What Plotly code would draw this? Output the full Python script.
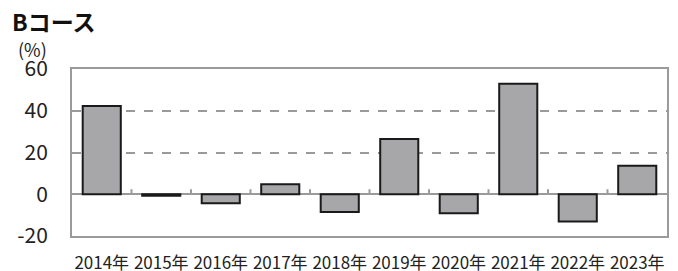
import plotly.graph_objects as go

categories = ["2014年", "2015年", "2016年", "2017年", "2018年",
              "2019年", "2020年", "2021年", "2022年", "2023年"]
values = [42.3, -0.7, -4.3, 4.8, -8.5, 26.5, -9.1, 52.9, -13.0, 13.6]
y_ticks = [-20, 0, 20, 40, 60]
y_range = [-20, 60]

font_family = "Noto Sans CJK JP, Noto Sans, sans-serif"

n = len(categories)
boundaries = [i + 0.5 for i in range(n - 1)]
tick_len = 2.4  # short upward boundary ticks on the zero line, in axis units

fig = go.Figure()
fig.add_trace(go.Bar(
    x=categories, y=values,
    marker=dict(color="#a7a7a9", line=dict(color="#1a1a1a", width=2)),
    width=0.64, xaxis="x", yaxis="y", showlegend=False, hoverinfo="x+y",
))
# boundary ticks between categories, rising from the zero line
fig.add_trace(go.Scatter(
    x=boundaries, y=[0] * len(boundaries), mode="markers",
    marker=dict(size=0.1, color="rgba(0,0,0,0)"),
    error_y=dict(type="data", symmetric=False,
                 array=[tick_len] * len(boundaries),
                 arrayminus=[0] * len(boundaries),
                 width=0, thickness=2, color="#9a9a9a"),
    xaxis="x2", yaxis="y", showlegend=False, hoverinfo="skip",
))

fig.update_layout(
    width=678, height=271,
    margin=dict(l=72, r=11, t=69, b=35, autoexpand=False),
    paper_bgcolor="white", plot_bgcolor="white",
    font=dict(family=font_family, color="#222222"),
    bargap=0.36,
    xaxis=dict(
        type="category", categoryorder="array", categoryarray=categories,
        range=[-0.5, n - 0.5],
        showgrid=False, zeroline=False, ticks="", automargin=False,
        showline=True, mirror=True, linecolor="#9a9a9a", linewidth=2,
        tickfont=dict(size=17, color="#222222"),
        ticklabelstandoff=11,
    ),
    xaxis2=dict(
        type="linear", range=[-0.5, n - 0.5], overlaying="x", anchor="y",
        visible=False, automargin=False,
    ),
    yaxis=dict(
        range=y_range, tickvals=y_ticks, ticktext=[str(v) for v in y_ticks],
        showgrid=True, gridcolor="#9a9a9a", griddash="dash", gridwidth=2,
        zeroline=True, zerolinecolor="#9a9a9a", zerolinewidth=2,
        showline=True, mirror=True, linecolor="#9a9a9a", linewidth=2,
        automargin=False,
        ticks="", tickfont=dict(size=21, color="#222222"),
        ticklabelstandoff=18,
    ),
    annotations=[
        dict(text="<b>Bコース</b>", xref="paper", yref="paper",
             x=-72/595, y=1 + 69/167, xanchor="left", yanchor="top",
             xshift=10, yshift=-2, showarrow=False,
             font=dict(size=23, color="#111111", family=font_family)),
        dict(text="(%)", xref="paper", yref="paper",
             x=-72/595, y=1 + 69/167, xanchor="left", yanchor="top",
             xshift=16, yshift=-34, showarrow=False,
             font=dict(size=18, color="#222222", family=font_family)),
    ],
)

fig.write_html("out.html",
               config={"displayModeBar": False},
               post_script="document.body.style.margin='0';document.body.style.padding='0';")
